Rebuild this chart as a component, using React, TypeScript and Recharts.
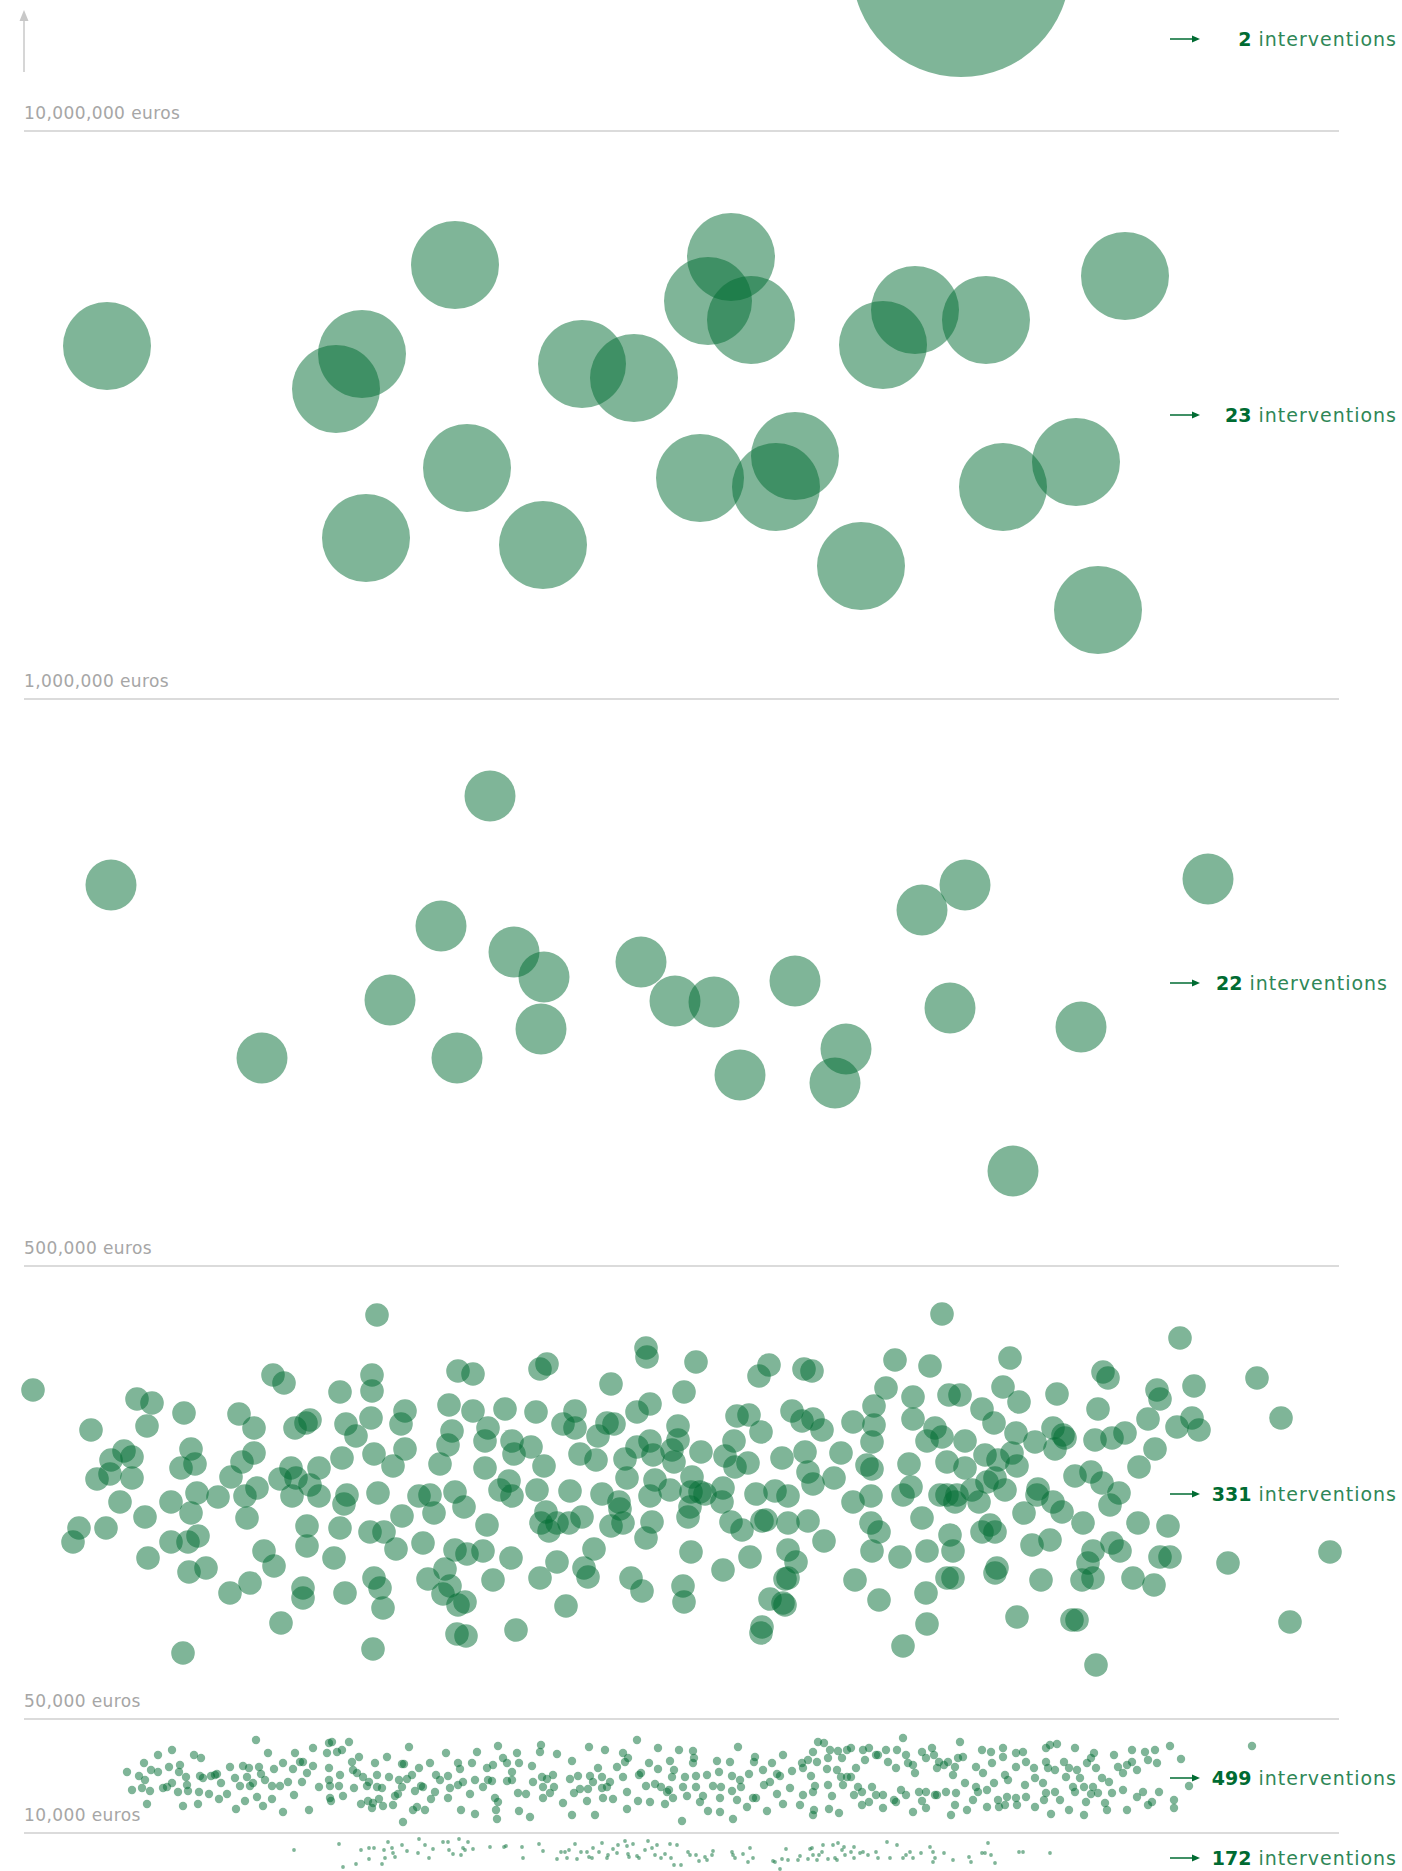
import { ScatterChart, Scatter, XAxis, YAxis, ReferenceLine } from 'recharts';

// ── Data: each intervention as [horizontal jitter, vertical position] ─────────

type Pt = [number, number];

const BAND_10M: Pt[] = [[961, -32]];

const BAND_1M: Pt[] = [
  [107, 346], [455, 265], [362, 354], [336, 389], [582, 364], [634, 378], [731, 257], [708, 301],
  [751, 320], [915, 310], [883, 345], [986, 320], [1125, 276], [467, 468], [366, 538], [543, 545],
  [700, 478], [795, 456], [776, 487], [861, 566], [1003, 487], [1076, 462], [1098, 610],
];

const BAND_500K: Pt[] = [
  [490, 796], [111, 885], [441, 926], [514, 952], [544, 977], [390, 1000], [541, 1029], [457, 1058],
  [262, 1058], [641, 962], [675, 1001], [714, 1002], [795, 981], [740, 1075], [846, 1049], [835, 1083],
  [922, 910], [965, 885], [950, 1008], [1081, 1027], [1208, 879], [1013, 1171],
];

const BAND_50K: Pt[] = [
  [33, 1390], [377, 1315], [273, 1375], [284, 1383], [372, 1375], [372, 1391], [340, 1392], [137, 1399],
  [152, 1403], [147, 1426], [184, 1413], [91, 1430], [239, 1414], [254, 1428], [295, 1428], [310, 1420],
  [306, 1423], [346, 1424], [356, 1436], [371, 1418], [405, 1411], [401, 1424], [449, 1405], [458, 1371],
  [473, 1374], [473, 1411], [452, 1431], [448, 1445], [440, 1464], [405, 1449], [393, 1466], [374, 1454],
  [342, 1458], [319, 1468], [291, 1468], [280, 1479], [296, 1478], [310, 1485], [319, 1496], [292, 1496],
  [254, 1453], [242, 1462], [231, 1477], [257, 1488], [245, 1496], [247, 1518], [218, 1497], [197, 1493],
  [191, 1449], [195, 1464], [181, 1468], [191, 1513], [171, 1502], [145, 1517], [120, 1502], [124, 1451],
  [132, 1457], [111, 1460], [110, 1474], [132, 1478], [97, 1479], [79, 1528], [73, 1542], [106, 1528],
  [148, 1558], [171, 1542], [188, 1542], [198, 1536], [189, 1572], [206, 1568], [230, 1593], [250, 1583],
  [264, 1551], [274, 1566], [303, 1588], [303, 1598], [281, 1623], [307, 1526], [307, 1546], [334, 1558],
  [340, 1528], [344, 1504], [347, 1495], [345, 1593], [370, 1532], [384, 1532], [396, 1549], [402, 1516],
  [378, 1493], [374, 1578], [380, 1588], [383, 1608], [419, 1496], [430, 1495], [434, 1513], [423, 1543],
  [428, 1579], [445, 1569], [450, 1586], [443, 1594], [455, 1550], [467, 1554], [458, 1605], [465, 1602],
  [457, 1634], [466, 1636], [373, 1649], [183, 1653], [455, 1492], [464, 1507],
  [942, 1314], [540, 1369], [547, 1364], [646, 1348], [647, 1357], [696, 1362], [611, 1384], [684, 1392],
  [759, 1376], [769, 1365], [804, 1369], [812, 1371], [895, 1360], [930, 1366], [886, 1388], [913, 1397],
  [874, 1406], [505, 1409], [536, 1412], [575, 1411], [563, 1424], [575, 1428], [607, 1423], [614, 1424],
  [598, 1436], [637, 1412], [650, 1404], [488, 1428], [485, 1441], [512, 1441], [514, 1454], [531, 1447],
  [544, 1466], [485, 1468], [509, 1481], [500, 1490], [512, 1496], [537, 1490], [487, 1525], [483, 1551],
  [511, 1558], [493, 1580], [516, 1630], [546, 1512], [541, 1523], [549, 1531], [557, 1523], [569, 1523],
  [582, 1517], [570, 1491], [580, 1454], [596, 1460], [602, 1494], [619, 1502], [620, 1509], [623, 1523],
  [611, 1526], [625, 1459], [627, 1478], [637, 1447], [650, 1441], [653, 1455], [655, 1480], [650, 1496],
  [670, 1490], [652, 1522], [646, 1538], [594, 1549], [557, 1562], [584, 1568], [588, 1577], [540, 1578],
  [566, 1606], [631, 1578], [642, 1591], [678, 1426], [678, 1440], [672, 1450], [674, 1462], [701, 1452],
  [692, 1477], [691, 1492], [700, 1492], [705, 1494], [690, 1507], [688, 1517], [723, 1488], [722, 1502],
  [725, 1456], [734, 1441], [735, 1467], [748, 1463], [737, 1416], [749, 1415], [761, 1432], [731, 1522],
  [742, 1530], [691, 1552], [683, 1586], [684, 1602], [723, 1570], [750, 1557], [756, 1494], [775, 1491],
  [788, 1496], [762, 1521], [766, 1520], [788, 1523], [808, 1521], [782, 1458], [792, 1411], [802, 1421],
  [813, 1419], [822, 1430], [805, 1452], [808, 1472], [813, 1484], [834, 1478], [841, 1453], [853, 1422],
  [874, 1425], [872, 1442], [867, 1465], [872, 1469], [853, 1502], [871, 1496], [871, 1523], [879, 1532],
  [872, 1551], [824, 1541], [788, 1550], [796, 1562], [785, 1579], [788, 1578], [770, 1599], [785, 1605],
  [783, 1603], [762, 1627], [761, 1633], [855, 1580], [879, 1600], [900, 1557], [903, 1646], [927, 1624],
  [926, 1593], [927, 1551], [922, 1518], [903, 1495], [911, 1487], [909, 1464], [913, 1419], [927, 1441],
  [935, 1428], [942, 1437], [940, 1495],
  [1180, 1338], [1010, 1358], [1103, 1372], [1108, 1378], [1257, 1378], [1281, 1418], [1194, 1386], [1157, 1390],
  [1160, 1399], [1003, 1387], [1057, 1394], [949, 1395], [960, 1395], [1019, 1402], [982, 1409], [1098, 1409],
  [994, 1423], [1148, 1419], [1177, 1427], [1192, 1418], [1199, 1430], [965, 1441], [1016, 1433], [1035, 1442],
  [1053, 1428], [1063, 1435], [1065, 1438], [1055, 1449], [1095, 1440], [1112, 1438], [1125, 1433], [1155, 1449],
  [1139, 1467], [947, 1462], [965, 1468], [985, 1455], [998, 1460], [1012, 1453], [1017, 1466], [987, 1482],
  [995, 1478], [1005, 1490], [972, 1490], [979, 1502], [947, 1495], [957, 1495], [955, 1502], [1075, 1476],
  [1091, 1472], [1102, 1483], [1119, 1493], [1110, 1505], [1038, 1489], [1037, 1495], [1053, 1502], [1062, 1512],
  [1024, 1513], [1083, 1523], [1138, 1523], [1168, 1526], [950, 1535], [953, 1551], [982, 1532], [990, 1525],
  [995, 1532], [1032, 1545], [1050, 1540], [1093, 1551], [1088, 1563], [1112, 1543], [1120, 1551], [1160, 1557],
  [1170, 1557], [997, 1568], [995, 1573], [947, 1578], [953, 1578], [1041, 1580], [1082, 1580], [1093, 1578],
  [1133, 1578], [1154, 1585], [1228, 1563], [1330, 1552], [1290, 1622], [1017, 1617], [1072, 1620], [1077, 1620],
  [1096, 1665],
];

const BAND_10K: Pt[] = [
  [127, 1772], [132, 1790], [139, 1776], [142, 1788], [144, 1763], [147, 1804], [145, 1780], [150, 1791],
  [151, 1770], [158, 1755], [158, 1772], [163, 1788], [167, 1787], [169, 1767], [172, 1750], [172, 1783],
  [178, 1792], [179, 1772], [180, 1765], [183, 1806], [186, 1777], [187, 1785], [188, 1791], [194, 1755],
  [198, 1804], [199, 1792], [200, 1776], [201, 1758], [203, 1778], [209, 1794], [211, 1776], [215, 1775],
  [217, 1774], [219, 1799], [221, 1783], [227, 1794], [230, 1767], [235, 1778], [236, 1809], [240, 1786],
  [243, 1766], [245, 1801], [247, 1777], [249, 1768], [250, 1786], [253, 1783], [256, 1740], [257, 1797],
  [259, 1767], [261, 1774], [263, 1806], [265, 1780], [268, 1753], [272, 1786], [272, 1799], [274, 1769],
  [280, 1786], [283, 1763], [283, 1812], [288, 1782], [293, 1769], [295, 1753], [294, 1795], [300, 1762],
  [302, 1782], [303, 1762], [307, 1773], [309, 1810], [313, 1748], [313, 1766], [319, 1787], [327, 1753],
  [329, 1743], [332, 1742], [329, 1768], [330, 1798], [331, 1801], [329, 1780], [330, 1786], [337, 1752],
  [340, 1775], [339, 1786], [342, 1750], [343, 1796], [349, 1742], [353, 1770], [352, 1762], [354, 1788],
  [357, 1773], [359, 1757], [361, 1804], [363, 1777], [367, 1786], [368, 1801], [369, 1782], [372, 1808],
  [373, 1803], [375, 1763], [377, 1775], [377, 1787], [379, 1799], [382, 1788], [383, 1806], [387, 1757],
  [389, 1777], [393, 1805], [395, 1796], [398, 1794], [399, 1780], [402, 1764], [402, 1787], [404, 1764],
  [403, 1822], [407, 1779], [409, 1747], [412, 1775], [413, 1810], [415, 1791], [417, 1807], [419, 1768],
  [421, 1786], [423, 1787], [425, 1810], [430, 1763], [431, 1799], [435, 1792], [436, 1775], [440, 1780],
  [446, 1753], [448, 1776], [448, 1798], [450, 1788], [458, 1763], [458, 1785], [460, 1769], [461, 1810],
  [463, 1782], [470, 1794], [472, 1763], [475, 1814], [477, 1752],
  [475, 1780], [483, 1787], [487, 1768], [488, 1780], [493, 1765], [492, 1781], [495, 1798], [498, 1746],
  [498, 1802], [496, 1810], [497, 1819], [503, 1758], [507, 1763], [507, 1781], [512, 1772], [512, 1780],
  [517, 1753], [519, 1763], [518, 1793], [519, 1811], [526, 1794], [530, 1817], [532, 1766], [533, 1782],
  [541, 1745], [540, 1752], [542, 1777], [543, 1787], [543, 1798], [547, 1779], [550, 1793], [553, 1775],
  [554, 1787], [557, 1754], [563, 1803], [570, 1779], [572, 1761], [572, 1815], [574, 1793], [578, 1776],
  [580, 1789], [587, 1801], [588, 1789], [589, 1747], [590, 1776], [593, 1782], [595, 1815], [598, 1768],
  [602, 1777], [602, 1788], [603, 1798], [605, 1750], [607, 1787], [610, 1782], [613, 1799], [617, 1767],
  [623, 1753], [623, 1777], [625, 1762], [627, 1792], [627, 1809], [628, 1758], [637, 1740], [638, 1801],
  [639, 1775], [641, 1773], [646, 1786], [649, 1763], [650, 1802], [655, 1784], [658, 1748], [658, 1769],
  [661, 1787], [665, 1804], [667, 1792], [669, 1790], [670, 1761], [672, 1777], [673, 1798], [674, 1770],
  [679, 1750], [682, 1821], [683, 1787], [685, 1777], [687, 1796], [693, 1751], [694, 1758], [693, 1763],
  [696, 1776], [696, 1787], [700, 1802], [703, 1796], [707, 1775], [708, 1811], [713, 1786], [717, 1761],
  [719, 1772], [721, 1787], [720, 1798], [720, 1812], [730, 1762], [732, 1776], [732, 1791], [733, 1819],
  [737, 1800], [738, 1747], [740, 1780], [741, 1787], [747, 1807], [749, 1774], [753, 1798], [754, 1762],
  [755, 1757], [756, 1798], [763, 1770], [764, 1785], [767, 1811], [770, 1782], [772, 1763], [777, 1794],
  [777, 1774], [780, 1776], [783, 1755], [783, 1804], [790, 1788], [792, 1771], [800, 1805], [802, 1763],
  [803, 1795], [803, 1768], [808, 1760], [811, 1776], [813, 1752], [813, 1792], [814, 1810], [813, 1815],
  [815, 1786], [817, 1762], [818, 1742], [824, 1743], [828, 1758], [827, 1769], [828, 1785], [829, 1809],
  [830, 1750], [832, 1796], [837, 1770], [838, 1751], [839, 1813], [841, 1777], [842, 1758], [843, 1785],
  [847, 1750], [847, 1777],
  [851, 1748], [856, 1768], [851, 1777], [858, 1787], [863, 1750], [865, 1760], [869, 1748], [876, 1755],
  [878, 1755], [886, 1750], [888, 1762], [897, 1750], [896, 1768], [903, 1738], [906, 1755], [908, 1763],
  [913, 1765], [915, 1773], [922, 1752], [926, 1758], [932, 1748], [934, 1755], [937, 1768], [939, 1762],
  [944, 1765], [948, 1762], [955, 1767], [958, 1758], [960, 1742], [963, 1757], [953, 1775], [965, 1783],
  [976, 1767], [976, 1787], [982, 1750], [983, 1773], [991, 1752], [992, 1763], [994, 1783], [1003, 1748],
  [1003, 1757], [1005, 1775], [1008, 1780], [1016, 1753], [1023, 1752], [1016, 1767], [1025, 1785], [1026, 1762],
  [1034, 1768], [1035, 1778], [1043, 1783], [1046, 1748], [1050, 1745], [1057, 1744], [1046, 1762], [1048, 1768],
  [1055, 1770], [1064, 1762], [1066, 1777], [1069, 1768], [1075, 1748], [1073, 1787], [1077, 1770], [1080, 1778],
  [1084, 1787], [1087, 1763], [1091, 1758], [1094, 1753], [1093, 1787], [1096, 1768], [1102, 1778], [1109, 1782],
  [1114, 1755], [1118, 1767], [1123, 1773], [1127, 1765], [1132, 1750], [1132, 1762], [1137, 1770], [1145, 1752],
  [1148, 1760], [1155, 1750], [1157, 1763], [1170, 1746], [1181, 1759], [1189, 1786], [1252, 1746],
  [854, 1795], [862, 1792], [872, 1787], [876, 1795], [883, 1795], [883, 1808], [894, 1800], [896, 1802],
  [901, 1790], [906, 1795], [913, 1812], [919, 1792], [926, 1792], [922, 1801], [926, 1808], [935, 1795],
  [937, 1795], [946, 1792], [951, 1815], [955, 1805], [956, 1793], [967, 1810], [973, 1800], [978, 1792],
  [987, 1790], [987, 1807], [998, 1800], [999, 1807], [1005, 1805], [1007, 1797], [1016, 1798], [1017, 1805],
  [1026, 1797], [1035, 1807], [1044, 1800], [1046, 1793], [1051, 1814], [1055, 1792], [1060, 1800], [1069, 1810],
  [1075, 1792], [1084, 1815], [1086, 1802], [1091, 1794], [1098, 1793], [1105, 1803], [1107, 1810], [1112, 1793],
  [1123, 1790], [1127, 1810], [1137, 1797], [1143, 1792], [1148, 1805], [1152, 1802], [1159, 1792], [1174, 1800],
  [1174, 1808], [862, 1805], [869, 1802],
];

const BAND_0: Pt[] = [
  [294, 1850], [339, 1844], [343, 1867], [356, 1864], [361, 1850], [369, 1848], [369, 1859], [374, 1848],
  [382, 1864], [384, 1850], [385, 1858], [388, 1842], [392, 1848], [393, 1853], [395, 1857], [402, 1845],
  [407, 1851], [418, 1853], [419, 1839], [425, 1845], [429, 1858], [433, 1849], [443, 1842], [448, 1842],
  [449, 1850], [453, 1854], [459, 1839], [461, 1855], [463, 1848], [465, 1850], [468, 1842], [473, 1849],
  [490, 1847], [504, 1847], [506, 1846], [522, 1847], [523, 1858], [539, 1844], [543, 1851], [557, 1859],
  [561, 1852], [565, 1852], [567, 1858], [569, 1850], [575, 1844], [577, 1859], [581, 1852], [587, 1852],
  [589, 1857], [592, 1858], [593, 1848], [599, 1852], [602, 1843], [607, 1858], [608, 1855], [613, 1849],
  [617, 1853], [618, 1845], [625, 1841], [627, 1846], [628, 1854], [629, 1857], [633, 1844], [637, 1856],
  [639, 1858], [645, 1850], [648, 1841], [652, 1848], [655, 1855], [657, 1845], [661, 1858], [665, 1854],
  [670, 1844], [671, 1858], [677, 1845], [674, 1865], [681, 1865], [688, 1852], [690, 1855], [696, 1855],
  [699, 1861], [705, 1857], [707, 1860], [712, 1855], [713, 1851], [732, 1852], [733, 1855], [735, 1858],
  [743, 1854], [748, 1862], [750, 1848], [753, 1858], [773, 1861], [775, 1862], [780, 1869], [782, 1859],
  [786, 1849], [788, 1860], [798, 1860], [800, 1856], [808, 1859], [810, 1849], [812, 1848], [813, 1855],
  [817, 1860], [819, 1855], [822, 1852], [823, 1845], [828, 1859], [833, 1845], [835, 1858], [838, 1843],
  [842, 1850], [837, 1860],
  [844, 1847], [845, 1855], [851, 1852], [854, 1847], [854, 1858], [860, 1853], [863, 1852], [868, 1855],
  [876, 1852], [878, 1858], [887, 1842], [890, 1858], [897, 1845], [903, 1858], [906, 1855], [910, 1852],
  [913, 1858], [921, 1853], [930, 1847], [933, 1852], [935, 1858], [933, 1862], [944, 1853], [953, 1860],
  [969, 1857], [971, 1862], [982, 1853], [985, 1853], [988, 1843], [991, 1855], [995, 1863], [1019, 1852],
  [1023, 1852], [1050, 1853],
];

// ── Band labels ──────────────────────────────────────────────────────────────

const THRESHOLD_LABELS = ['10,000,000 euros', '1,000,000 euros', '500,000 euros', '50,000 euros', '10,000 euros'];
const THRESHOLD_VALUES = [131, 699, 1266, 1719, 1833];
const BAND_COUNTS = [2, 23, 22, 331, 499, 172];

// ── Layout / style ───────────────────────────────────────────────────────────

const W = 1402;
const H = 1871;
const GREEN = '#006b32';
const LINE_X0 = 24;
const LINE_X1 = 1339;
const COUNT_Y = [39, 415, 983, 1494, 1778, 1858];
const COUNT_RIGHT = [1397, 1397, 1388, 1397, 1397, 1397];
const FONT = '"DejaVu Sans", "Open Sans", sans-serif';

const BANDS = [
  { key: '10m', pts: BAND_10M, r: 109 },
  { key: '1m', pts: BAND_1M, r: 44 },
  { key: '500k', pts: BAND_500K, r: 25.5 },
  { key: '50k', pts: BAND_50K, r: 11.8 },
  { key: '10k', pts: BAND_10K, r: 4.2 },
  { key: '0', pts: BAND_0, r: 1.9 },
];

function dot(r: number) {
  return (props: any) => (
    <circle cx={props.cx} cy={props.cy} r={r} fill={GREEN} fillOpacity={0.5} />
  );
}

export default function App() {
  return (
    <div style={{ position: 'relative', width: W, height: H, background: '#fff', overflow: 'hidden' }}>
      <style>{'body{margin:0;background:#fff}'}</style>
      <div style={{ position: 'absolute', left: 0, top: 0 }}>
        <ScatterChart width={W} height={H} margin={{ top: 0, right: 0, bottom: 0, left: 0 }}>
          <XAxis type="number" dataKey="x" domain={[0, W]} allowDataOverflow hide />
          <YAxis type="number" dataKey="y" domain={[0, H]} allowDataOverflow reversed hide width={0} />
          {THRESHOLD_VALUES.map((v) => (
            <ReferenceLine
              key={v}
              segment={[{ x: LINE_X0, y: v }, { x: LINE_X1, y: v }]}
              stroke="#cfcfcf"
              strokeWidth={1.5}
              ifOverflow="visible"
            />
          ))}
          {BANDS.map((b) => (
            <Scatter
              key={b.key}
              data={b.pts.map(([x, y]) => ({ x, y }))}
              shape={dot(b.r)}
              isAnimationActive={false}
            />
          ))}
        </ScatterChart>
      </div>

      <svg width={W} height={H} style={{ position: 'absolute', left: 0, top: 0, pointerEvents: 'none' }}>
        {/* value axis arrow */}
        <line x1={24} y1={20} x2={24} y2={72} stroke="#c8c8c8" strokeWidth={1.5} />
        <polygon points="24,10 19.5,21 28.5,21" fill="#c8c8c8" />

        {THRESHOLD_LABELS.map((t, i) => (
          <text key={t} x={24} y={THRESHOLD_VALUES[i] - 12} fontFamily={FONT} fontSize={17} letterSpacing={0.4} fill="#a6a6a6">
            {t}
          </text>
        ))}

        {BAND_COUNTS.map((c, i) => (
          <g key={i}>
            <line x1={1170} y1={COUNT_Y[i]} x2={1195} y2={COUNT_Y[i]} stroke={GREEN} strokeWidth={1.5} />
            <polygon
              points={`1200,${COUNT_Y[i]} 1192,${COUNT_Y[i] - 3.5} 1192,${COUNT_Y[i] + 3.5}`}
              fill={GREEN}
            />
            <text x={COUNT_RIGHT[i]} y={COUNT_Y[i] + 7} textAnchor="end" fontFamily={FONT} fontSize={19} fill="#2f8757">
              <tspan fontWeight={700} fill={GREEN}>{c}</tspan>
              <tspan letterSpacing={1}> interventions</tspan>
            </text>
          </g>
        ))}
      </svg>
    </div>
  );
}
